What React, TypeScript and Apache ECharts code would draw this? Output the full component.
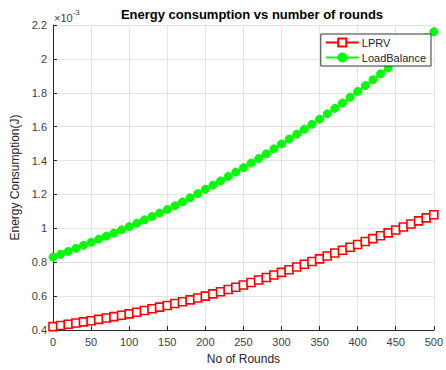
import React, { useEffect, useRef } from "react";
import * as echarts from "echarts";

const rounds: number[] = [
  0, 10, 20, 30, 40, 50, 60, 70, 80, 90, 100, 110, 120, 130, 140, 150, 160, 170, 180, 190, 200,
  210, 220, 230, 240, 250, 260, 270, 280, 290, 300, 310, 320, 330, 340, 350, 360, 370, 380, 390, 400,
  410, 420, 430, 440, 450, 460, 470, 480, 490, 500,
];

// values in units of 10^-3 J
const lprv: number[] = [
  0.42, 0.427, 0.434, 0.441, 0.448, 0.455, 0.463, 0.471, 0.479, 0.487, 0.495,
  0.505, 0.515, 0.525, 0.535, 0.545, 0.556, 0.567, 0.578, 0.589, 0.6,
  0.613, 0.626, 0.639, 0.652, 0.666, 0.68, 0.695, 0.71, 0.725, 0.74,
  0.756, 0.772, 0.788, 0.804, 0.82, 0.837, 0.854, 0.871, 0.888, 0.905,
  0.922, 0.939, 0.956, 0.973, 0.99, 1.008, 1.026, 1.044, 1.062, 1.08,
];

const loadBalance: number[] = [
  0.83, 0.847, 0.864, 0.882, 0.9, 0.918, 0.936, 0.954, 0.972, 0.991, 1.01,
  1.03, 1.05, 1.07, 1.09, 1.111, 1.133, 1.156, 1.18, 1.205, 1.23,
  1.255, 1.28, 1.306, 1.332, 1.358, 1.385, 1.412, 1.44, 1.469, 1.498,
  1.527, 1.556, 1.585, 1.614, 1.644, 1.676, 1.708, 1.74, 1.774, 1.808,
  1.842, 1.877, 1.912, 1.947, 1.982, 2.018, 2.054, 2.09, 2.125, 2.16,
];

const FONT = "'Liberation Sans', Arial, Helvetica, sans-serif";
const AXIS_COLOR = "#262626";
const LABEL_COLOR = "#404040";

export default function App() {
  const ref = useRef<HTMLDivElement>(null);
  useEffect(() => {
    if (!ref.current) return;
    const chart = echarts.init(ref.current, undefined, { renderer: "svg" });
    const option: any = {
      animation: false,
      backgroundColor: "#ffffff",
      textStyle: { fontFamily: FONT },
      title: {
        text: "Energy consumption vs number of rounds",
        left: 247,
        top: 3,
        textAlign: "center",
        textStyle: { fontFamily: FONT, fontSize: 13, fontWeight: "bold", color: "#000" },
      },
      graphic: [
        {
          type: "text",
          left: 54,
          top: 8,
          style: {
            text: "{a|\u00d710}{b|-3}",
            rich: {
              a: { fontFamily: FONT, fontSize: 11, fill: LABEL_COLOR, verticalAlign: "bottom" },
              b: { fontFamily: FONT, fontSize: 8, fill: LABEL_COLOR, verticalAlign: "top", padding: [0, 0, 7, 0] },
            },
          },
        },
      ],
      legend: {
        right: 15,
        top: 34,
        orient: "vertical",
        backgroundColor: "#ffffff",
        borderColor: "#333333",
        borderWidth: 1,
        borderRadius: 0,
        padding: [3, 5, 3, 4],
        itemGap: 4,
        itemWidth: 33,
        itemHeight: 10,
        textStyle: { fontFamily: FONT, fontSize: 11, color: "#262626", padding: [0, 0, 0, -2] },
        data: ["LPRV", "LoadBalance"],
      },
      grid: { left: 53, right: 5, top: 25, bottom: 39, containLabel: false },
      xAxis: {
        type: "value",
        min: 0,
        max: 500,
        interval: 50,
        name: "No of Rounds",
        nameLocation: "middle",
        nameGap: 23,
        nameTextStyle: { fontFamily: FONT, fontSize: 12, color: "#262626" },
        axisLine: { show: true, onZero: false, lineStyle: { color: AXIS_COLOR, width: 1 } },
        axisTick: { show: true, inside: true, length: 4, lineStyle: { color: AXIS_COLOR } },
        axisLabel: { fontFamily: FONT, fontSize: 11, color: LABEL_COLOR, margin: 6 },
        splitLine: { show: true, lineStyle: { color: "#e3e3e3", width: 1 } },
      },
      yAxis: {
        type: "value",
        min: 0.4,
        max: 2.2,
        interval: 0.2,
        name: "Energy Consumption(J)",
        nameLocation: "middle",
        nameGap: 32,
        nameTextStyle: { fontFamily: FONT, fontSize: 12, color: "#262626" },
        axisLine: { show: true, lineStyle: { color: AXIS_COLOR, width: 1 } },
        axisTick: { show: true, inside: true, length: 4, lineStyle: { color: AXIS_COLOR } },
        axisLabel: {
          fontFamily: FONT,
          fontSize: 11,
          color: LABEL_COLOR,
          margin: 6,
          formatter: (v: number) => String(parseFloat(v.toFixed(1))),
        },
        splitLine: { show: true, lineStyle: { color: "#e3e3e3", width: 1 } },
      },
      series: [
        {
          name: "LPRV",
          type: "line",
          data: rounds.map((r, i) => [r, lprv[i]]),
          symbol: "rect",
          symbolSize: 8,
          showAllSymbol: true,
          lineStyle: { color: "#ff0000", width: 2 },
          itemStyle: { color: "#ffffff", borderColor: "#ff0000", borderWidth: 1.6 },
          emphasis: { disabled: true },
          z: 3,
        },
        {
          name: "LoadBalance",
          type: "line",
          data: rounds.map((r, i) => [r, loadBalance[i]]),
          symbol: "circle",
          symbolSize: 8,
          showAllSymbol: true,
          lineStyle: { color: "#00ff00", width: 2 },
          itemStyle: { color: "#00ff00", borderColor: "#00ff00", borderWidth: 1 },
          emphasis: { disabled: true },
          z: 3,
        },
      ],
    };
    chart.setOption(option);
    return () => chart.dispose();
  }, []);
  return (
    <div
      ref={ref}
      style={{ position: "fixed", left: 0, top: 0, width: 446, height: 370, background: "#fff" }}
    />
  );
}
